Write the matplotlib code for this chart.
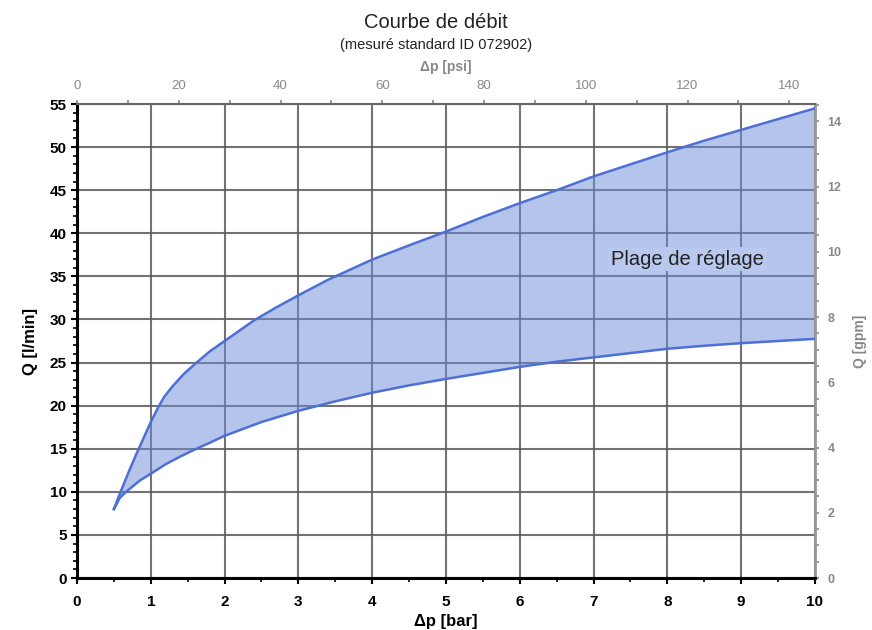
import matplotlib
matplotlib.use("Agg")
import matplotlib.pyplot as plt
import numpy as np
from matplotlib.ticker import MultipleLocator

plt.rcParams['font.family'] = ['Liberation Sans', 'DejaVu Sans']

# Data
dp_upper = [0.5, 0.6, 0.7, 0.8, 0.9, 1.0, 1.1, 1.18, 1.3, 1.45, 1.62, 1.8, 2.0, 2.4, 2.7,
            3.0, 3.4, 4.0, 4.5, 5.0, 5.5, 6.0, 6.5, 7.0, 7.5, 8.0, 8.5, 9.0, 9.5, 10.0]
q_upper = [8.0, 10.2, 12.3, 14.3, 16.2, 18.1, 19.8, 21.0, 22.3, 23.7, 25.0, 26.3, 27.5, 29.9, 31.4,
           32.8, 34.6, 36.95, 38.6, 40.2, 41.9, 43.5, 45.0, 46.6, 48.0, 49.4, 50.75, 52.0, 53.25, 54.5]
dp_lower = [0.5, 0.58, 0.65, 0.75, 0.85, 1.0, 1.2, 1.4, 1.58, 1.8, 2.0, 2.5, 3.0, 3.5, 4.0, 4.5,
            5.0, 5.5, 6.0, 6.5, 7.0, 7.5, 8.0, 8.5, 9.0, 9.5, 10.0]
q_lower = [8.0, 9.3, 9.9, 10.6, 11.3, 12.1, 13.2, 14.1, 14.85, 15.7, 16.5, 18.1, 19.4, 20.5, 21.5, 22.35,
           23.1, 23.8, 24.5, 25.1, 25.6, 26.1, 26.6, 26.95, 27.25, 27.5, 27.75]

title = "Courbe de débit"
subtitle = "(mesuré standard ID 072902)"
range_label = "Plage de réglage"

BAR2PSI = 14.5038
LPM2GPM = 1 / 3.78541

fig = plt.figure(figsize=(8.72, 6.3), dpi=100)
ax = fig.add_axes([0.0883, 0.0825, 0.8463, 0.7524])

line_c = '#4d6fd6'
fill_c = '#6a8ad8'

xs = np.union1d(dp_upper, dp_lower)
up = np.interp(xs, dp_upper, q_upper)
lo = np.interp(xs, dp_lower, q_lower)

ax.set_xlim(0, 10)
ax.set_ylim(0, 55)
ax.set_xticks(np.arange(0, 11, 1))
ax.set_yticks(np.arange(0, 56, 5))
ax.xaxis.set_minor_locator(MultipleLocator(0.5))
ax.yaxis.set_minor_locator(MultipleLocator(1))
ax.grid(True, which='major', color='#5a5a5a', linewidth=1.5, alpha=0.85, zorder=0)
ax.set_axisbelow(True)

ax.fill_between(xs, lo, up, color=fill_c, alpha=0.5, linewidth=0, zorder=2)
ax.plot(dp_upper, q_upper, color=line_c, linewidth=1.8, zorder=3, solid_joinstyle='round')
ax.plot(dp_lower, q_lower, color=line_c, linewidth=1.8, zorder=3, solid_joinstyle='round')

ax.text(8.27, 37.0, range_label, fontsize=14.5, ha='center', va='center', color='#222222',
        bbox=dict(facecolor='#b9c8ef', edgecolor='none', pad=2), zorder=4)

for s in ['left', 'bottom']:
    ax.spines[s].set_linewidth(2.2)
    ax.spines[s].set_color('black')
ax.spines['right'].set_color('#999999')
ax.spines['right'].set_linewidth(2.0)
ax.spines['top'].set_color('#666666')
ax.spines['top'].set_linewidth(1.5)

ax.tick_params(axis='both', which='major', labelsize=11, width=1.5, length=4, direction='out', colors='black')
ax.tick_params(axis='both', which='minor', width=1.2, length=3, direction='out')
ax.tick_params(axis='x', pad=8)
for lbl in ax.get_xticklabels() + ax.get_yticklabels():
    lbl.set_fontweight('bold')

ax.set_xlabel("Δp [bar]", fontsize=12, fontweight='bold', labelpad=4)
ax.set_ylabel("Q [l/min]", fontsize=12, fontweight='bold', labelpad=8)

# Top psi axis
secx = ax.secondary_xaxis('top', functions=(lambda b: b * BAR2PSI, lambda p: p / BAR2PSI))
secx.set_xticks(np.arange(0, 141, 20))
secx.xaxis.set_minor_locator(MultipleLocator(10))
secx.tick_params(which='major', labelsize=9.5, colors='#888888', length=3, width=1.2, pad=6)
secx.tick_params(which='minor', colors='#888888', length=3, width=1.2)
secx.spines['top'].set_visible(False)
secx.set_xlabel("Δp [psi]", fontsize=10, fontweight='bold', color='#888888', labelpad=6)

# Right gpm axis
secy = ax.secondary_yaxis('right', functions=(lambda q: q * LPM2GPM, lambda g: g / LPM2GPM))
secy.set_yticks(np.arange(0, 15, 2))
secy.yaxis.set_minor_locator(MultipleLocator(0.5))
secy.tick_params(which='major', labelsize=9, colors='#888888', length=3, width=1.2, pad=6)
secy.tick_params(which='minor', colors='#888888', length=3, width=1.2)
for lbl in secy.get_yticklabels():
    lbl.set_fontweight('bold')
secy.spines['right'].set_visible(False)
secy.set_ylabel("Q [gpm]", fontsize=10, fontweight='bold', color='#888888', labelpad=8)

fig.text(0.5, 0.965, title, ha='center', va='center', fontsize=14.5, color='#222222')
fig.text(0.5, 0.929, subtitle, ha='center', va='center', fontsize=10.5, color='#222222')

fig.savefig("out.png", dpi=100)
